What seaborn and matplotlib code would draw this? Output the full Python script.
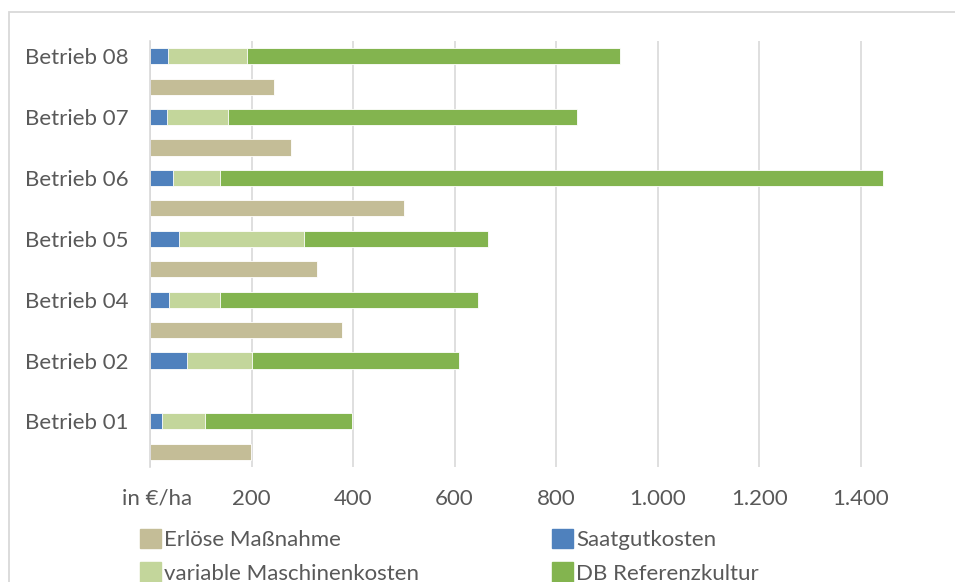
import numpy as np
import pandas as pd
import seaborn as sns
import matplotlib.pyplot as plt
from matplotlib.patches import Patch, Rectangle
from matplotlib.transforms import ScaledTranslation

sns.set_theme(style="white")
plt.rcParams["font.family"] = ["Lato", "DejaVu Sans"]

# Werte in €/ha, von oben nach unten wie im Diagramm
betriebe = ["Betrieb 08", "Betrieb 07", "Betrieb 06", "Betrieb 05",
            "Betrieb 04", "Betrieb 02", "Betrieb 01"]
saatgutkosten = [36, 33, 46, 57, 37, 72, 24]
maschinenkosten = [156, 121, 92, 247, 101, 129, 84]
db_referenz = [734, 687, 1306, 361, 509, 407, 290]
erloese = [244, 278, 501, 330, 379, np.nan, 199]
x_ticks = [0, 200, 400, 600, 800, 1000, 1200, 1400]
x_labels = ["in €/ha", "200", "400", "600", "800", "1.000", "1.200", "1.400"]

c_erl = "#C4BD97"
c_saat = "#4F81BD"
c_masch = "#C3D69B"
c_db = "#83B44F"
grau = "#D9D9D9"
text_grau = "#595959"

kosten_slots = [b + " Kosten" for b in betriebe]
erloes_slots = [b + " Erlöse" for b in betriebe]
slot_order = [s for pair in zip(kosten_slots, erloes_slots) for s in pair]

kosten = pd.DataFrame({"slot": kosten_slots, "saat": saatgutkosten,
                       "masch": maschinenkosten, "db": db_referenz})
kosten["bis_masch"] = kosten["saat"] + kosten["masch"]
kosten["bis_db"] = kosten["bis_masch"] + kosten["db"]
erl = pd.DataFrame({"slot": erloes_slots, "erloese": erloese}).dropna()

fig = plt.figure(figsize=(9.55, 5.82), dpi=100)
ax = fig.add_axes([150 / 955, 1 - 467 / 582, (955 - 150) / 955, (467 - 41) / 582])

bar_kw = dict(orient="h", order=slot_order, width=0.53, saturation=1,
              errorbar=None, edgecolor="white", linewidth=0.6, ax=ax)
# gestapelte Kosten: Summen übereinander legen
sns.barplot(data=kosten, x="bis_db", y="slot", color=c_db, **bar_kw)
sns.barplot(data=kosten, x="bis_masch", y="slot", color=c_masch, **bar_kw)
sns.barplot(data=kosten, x="saat", y="slot", color=c_saat, **bar_kw)
sns.barplot(data=erl, x="erloese", y="slot", color=c_erl, **bar_kw)

ax.set_xlim(0, 1586)
ax.set_ylim(13.5, -0.5)
ax.set_xticks(x_ticks, labels=x_labels)
ax.set_yticks(range(0, 14, 2), labels=betriebe)
ax.set_xlabel("")
ax.set_ylabel("")
ax.grid(axis="x", color=grau, linewidth=1.2)
ax.set_axisbelow(True)
for s in ["top", "right", "bottom"]:
    ax.spines[s].set_visible(False)
ax.spines["left"].set_color(grau)
ax.spines["left"].set_linewidth(1.2)
ax.tick_params(length=0, labelsize=16, labelcolor=text_grau)
ax.tick_params(axis="y", pad=15.5)
ax.tick_params(axis="x", pad=15.5)
lbl0 = ax.get_xticklabels()[0]
lbl0.set_transform(lbl0.get_transform() + ScaledTranslation(0.07, 0, fig.dpi_scale_trans))

leg_kw = dict(loc="upper left", frameon=False, fontsize=16, labelcolor=text_grau,
              handlelength=0.95, handleheight=0.95, handletextpad=0.15,
              labelspacing=0.55, borderpad=0, borderaxespad=0)
fig.legend(handles=[Patch(color=c_erl, label="Erlöse Maßnahme"),
                    Patch(color=c_masch, label="variable Maschinenkosten")],
           bbox_to_anchor=(140 / 955, 1 - 529 / 582), **leg_kw)
fig.legend(handles=[Patch(color=c_saat, label="Saatgutkosten"),
                    Patch(color=c_db, label="DB Referenzkultur")],
           bbox_to_anchor=(552 / 955, 1 - 529 / 582), **leg_kw)

fig.add_artist(Rectangle((9 / 955, -1), 2, 1 + (1 - 12 / 582),
                         transform=fig.transFigure, fill=False,
                         edgecolor=grau, linewidth=1.3))

fig.savefig("out.png", dpi=100)
